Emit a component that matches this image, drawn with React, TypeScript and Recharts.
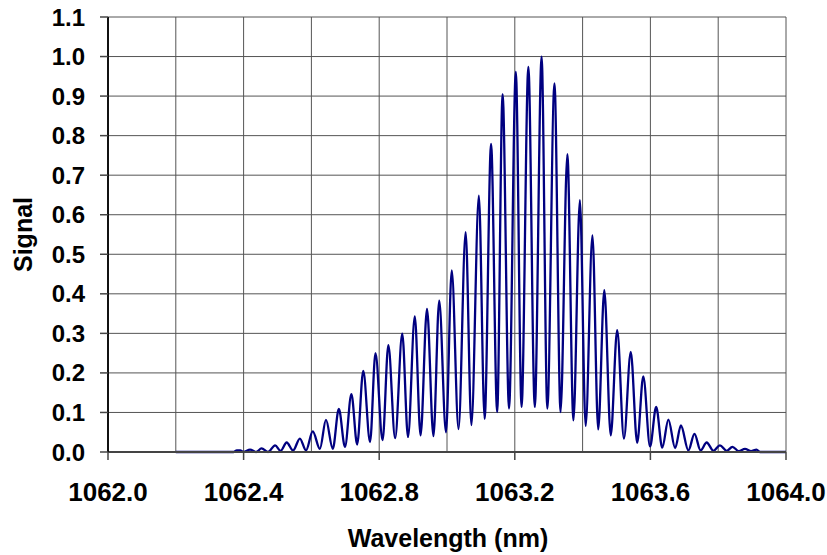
import React from 'react';
import { LineChart, Line, XAxis, YAxis, CartesianGrid, Label } from 'recharts';

const wavelength = [
  1062.2, 1062.37, 1062.38, 1062.39, 1062.4, 1062.419, 1062.437, 1062.453, 1062.472, 1062.493,
  1062.509, 1062.527, 1062.546, 1062.566, 1062.584, 1062.604, 1062.625, 1062.643, 1062.663, 1062.681,
  1062.699, 1062.718, 1062.735, 1062.753, 1062.773, 1062.789, 1062.81, 1062.827, 1062.847, 1062.868,
  1062.885, 1062.905, 1062.922, 1062.941, 1062.96, 1062.977, 1062.997, 1063.014, 1063.034, 1063.055,
  1063.072, 1063.094, 1063.111, 1063.13, 1063.148, 1063.164, 1063.183, 1063.203, 1063.22, 1063.24,
  1063.259, 1063.279, 1063.296, 1063.317, 1063.335, 1063.355, 1063.373, 1063.392, 1063.409, 1063.429,
  1063.446, 1063.464, 1063.483, 1063.502, 1063.522, 1063.542, 1063.561, 1063.579, 1063.599, 1063.617,
  1063.635, 1063.653, 1063.673, 1063.69, 1063.712, 1063.73, 1063.748, 1063.766, 1063.786, 1063.805,
  1063.825, 1063.842, 1063.861, 1063.879, 1063.897, 1063.913, 1063.923, 1064.0,
];

const signal = [
  0, 0, 0.004, 0.004, 0, 0.006, 0, 0.009, 0, 0.017,
  0.003, 0.024, 0.004, 0.034, 0.004, 0.052, 0.008, 0.081, 0.008, 0.109,
  0.013, 0.146, 0.019, 0.205, 0.025, 0.25, 0.03, 0.27, 0.035, 0.299,
  0.038, 0.343, 0.042, 0.362, 0.04, 0.383, 0.05, 0.459, 0.058, 0.556,
  0.068, 0.648, 0.084, 0.779, 0.101, 0.905, 0.11, 0.961, 0.114, 0.974,
  0.114, 1.0, 0.11, 0.932, 0.101, 0.753, 0.08, 0.637, 0.066, 0.548,
  0.057, 0.409, 0.042, 0.308, 0.034, 0.253, 0.023, 0.191, 0.014, 0.114,
  0.011, 0.082, 0.01, 0.067, 0.004, 0.046, 0.004, 0.024, 0.003, 0.017,
  0.003, 0.013, 0.002, 0.008, 0.002, 0.006, 0, 0,
];

const xGridTicks = [1062.0, 1062.2, 1062.4, 1062.6, 1062.8, 1063.0, 1063.2, 1063.4, 1063.6, 1063.8, 1064.0];
const xLabelTicks = [1062.0, 1062.4, 1062.8, 1063.2, 1063.6, 1064.0];
const yTicks = [0, 0.1, 0.2, 0.3, 0.4, 0.5, 0.6, 0.7, 0.8, 0.9, 1.0, 1.1];

const data = wavelength.map((w, i) => ({ w, s: signal[i] }));

const FONT = '"Liberation Sans", Arial, sans-serif';

const XTick = (props: any) => {
  const { x, y, payload } = props;
  const v = payload.value;
  const isLabel = xLabelTicks.some((t) => Math.abs(t - v) < 1e-6);
  if (!isLabel) return null;
  return (
    <g>
      <line x1={x} y1={y} x2={x} y2={y + 8} stroke="#444" strokeWidth={1.5} />
      <text x={x} y={y + 31} dy="0.71em" textAnchor="middle" fontFamily={FONT} fontWeight="bold" fontSize={26} fill="#000">
        {v.toFixed(1)}
      </text>
    </g>
  );
};

export default function App() {
  return (
    <div style={{ position: 'absolute', left: 0, top: 0, background: '#fff' }}>
      <LineChart width={827} height={555} data={data} margin={{ top: 17, right: 41, left: 0, bottom: 43 }}>
        <CartesianGrid stroke="#555" strokeWidth={1} />
        <XAxis
          dataKey="w"
          type="number"
          domain={[1062.0, 1064.0]}
          ticks={xGridTicks}
          interval={0}
          allowDataOverflow
          height={60}
          tickSize={0}
          tickMargin={0}
          tickLine={false}
          axisLine={{ stroke: '#444', strokeWidth: 2 }}
          tick={<XTick />}
        >
          <Label
            content={() => (
              <text x={448} y={538} textAnchor="middle" dominantBaseline="central" fontFamily={FONT} fontWeight="bold" fontSize={25} fill="#000">
                Wavelength (nm)
              </text>
            )}
          />
        </XAxis>
        <YAxis
          type="number"
          domain={[0, 1.1]}
          ticks={yTicks}
          interval={0}
          width={108}
          tickSize={8}
          tickMargin={15}
          tickLine={{ stroke: '#444', strokeWidth: 1.5 }}
          axisLine={{ stroke: '#111', strokeWidth: 2 }}
          tickFormatter={(v: number) => v.toFixed(1)}
          tick={{ fontFamily: FONT, fontWeight: 'bold', fontSize: 24, fill: '#000' }}
        >
          <Label
            content={() => (
              <text x={23} y={234.5} transform="rotate(-90 23 234.5)" textAnchor="middle" dominantBaseline="central" fontFamily={FONT} fontWeight="bold" fontSize={25} fill="#000">
                Signal
              </text>
            )}
          />
        </YAxis>
        <Line
          type="monotone"
          dataKey="s"
          stroke="#000080"
          strokeWidth={2.3}
          dot={false}
          isAnimationActive={false}
        />
      </LineChart>
    </div>
  );
}
